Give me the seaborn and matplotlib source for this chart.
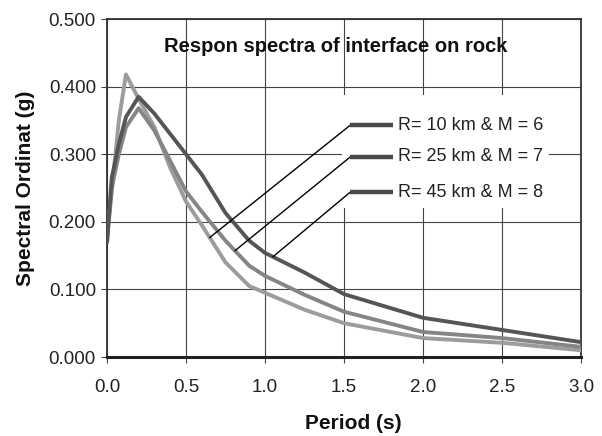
import numpy as np
import pandas as pd
import matplotlib.pyplot as plt
import seaborn as sns


# periode (s) dan ordinat spektra (g)
period = [0.0, 0.03, 0.075, 0.12, 0.2, 0.3, 0.4, 0.5, 0.6, 0.75, 0.9, 1.0, 1.25, 1.5, 2.0, 2.5, 3.0]
sa_r10 = [0.180, 0.245, 0.350, 0.418, 0.382, 0.340, 0.280, 0.230, 0.195, 0.140, 0.105, 0.095, 0.070, 0.050, 0.028, 0.021, 0.010]
sa_r25 = [0.170, 0.250, 0.300, 0.340, 0.368, 0.335, 0.290, 0.245, 0.215, 0.172, 0.135, 0.120, 0.092, 0.067, 0.037, 0.028, 0.015]
sa_r45 = [0.170, 0.265, 0.315, 0.355, 0.385, 0.360, 0.330, 0.300, 0.270, 0.213, 0.172, 0.154, 0.125, 0.093, 0.058, 0.040, 0.022]

case_labels = ["R= 10 km & M = 6", "R= 25 km & M = 7", "R= 45 km & M = 8"]
label_y     = [0.343, 0.296, 0.244]   # posisi teks keterangan
leader_x    = [0.65, 0.81, 1.05]      # titik ujung garis penunjuk di kurva

x_ticks = [0.0, 0.5, 1.0, 1.5, 2.0, 2.5, 3.0]
y_ticks = [0.0, 0.1, 0.2, 0.3, 0.4, 0.5]

COLORS = ["#9c9c9c", "#858585", "#555555"]

series = [sa_r10, sa_r25, sa_r45]
df = pd.concat([
    pd.DataFrame({"period": period, "sa": s, "case": lab})
    for s, lab in zip(series, case_labels)
])

sns.set_theme(style="white")
plt.rcParams["font.family"] = ["Liberation Sans", "DejaVu Sans"]

fig = plt.figure(figsize=(6.02, 4.36), dpi=100)
ax = fig.add_axes([107/602, 1 - 357/436, 474/602, 338/436])

sns.lineplot(data=df, x="period", y="sa", hue="case", palette=COLORS,
             linewidth=2.8, legend=False, ax=ax, sort=False, zorder=3)

# kotak putih di belakang keterangan (menutupi grid)
ax.add_patch(plt.Rectangle((1.49, 0.22), 1.31, 0.168, facecolor="white",
                           edgecolor="none", zorder=1.5))

# keterangan dengan garis penunjuk
for s, lab, ly, lx, c in zip(series, case_labels, label_y, leader_x, COLORS):
    cy = np.interp(lx, period, s)
    ax.annotate("", xy=(lx, cy), xytext=(1.54, ly),
                arrowprops=dict(arrowstyle="-", color="black", lw=1.0,
                                shrinkA=0, shrinkB=0), zorder=4)
    ax.plot([1.54, 1.81], [ly, ly], color="#4a4a4a", lw=3.2,
            solid_capstyle="butt", zorder=4)
    ax.text(1.84, ly, lab, fontsize=13, va="center", ha="left",
            color="#222222", zorder=4)

ax.text(1.45, 0.459, "Respon spectra of interface on rock", fontsize=14.5,
        fontweight="bold", ha="center", va="center", color="#111111")

ax.set_xlim(0, 3.0)
ax.set_ylim(0, 0.5)
ax.set_xticks(x_ticks)
ax.set_yticks(y_ticks)
ax.set_xticklabels([f"{v:.1f}" for v in x_ticks])
ax.set_yticklabels([f"{v:.3f}" for v in y_ticks])
ax.set_axisbelow(True)
ax.grid(True, color="#444444", lw=0.8, zorder=1)
ax.tick_params(axis="both", which="major", labelsize=13.5, length=4,
               width=0.8, color="#444444", labelcolor="#222222")
ax.tick_params(axis="x", pad=12)
ax.tick_params(axis="y", pad=4)
ax.tick_params(bottom=True, left=True)

for side in ["top", "right", "left"]:
    ax.spines[side].set_color("#333333")
    ax.spines[side].set_linewidth(1.3)
ax.spines["bottom"].set_color("#222222")
ax.spines["bottom"].set_linewidth(2.2)

ax.set_xlabel("Period (s)", fontsize=15, fontweight="bold", color="#111111")
ax.set_ylabel("Spectral Ordinat (g)", fontsize=15, fontweight="bold", color="#111111")
ax.xaxis.set_label_coords(0.52, -0.17)
ax.yaxis.set_label_coords(-0.152, 0.5)

fig.savefig("out.png", dpi=100)
